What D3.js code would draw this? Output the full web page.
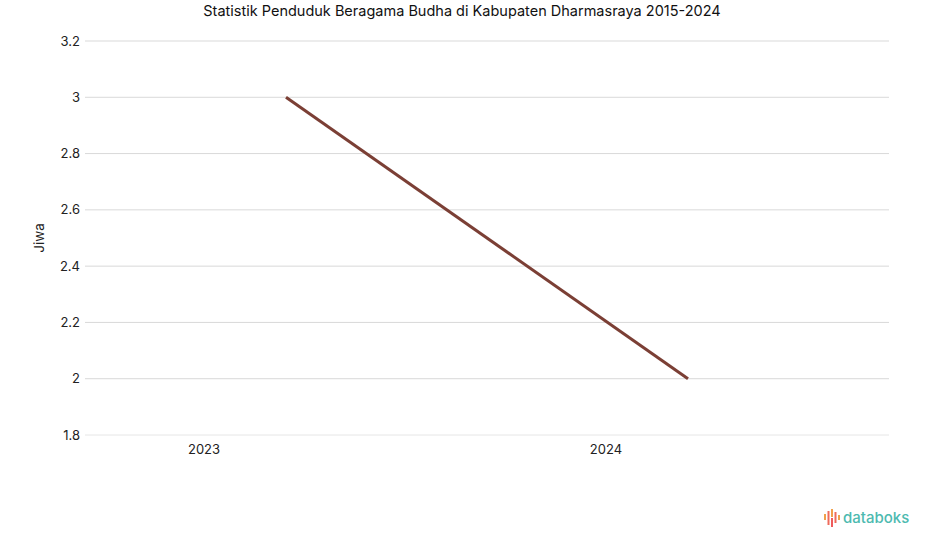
<!DOCTYPE html>
<html>
<head>
<meta charset="utf-8">
<script src="https://cdn.jsdelivr.net/npm/d3@7"></script>
<style>
  body { margin: 0; background: #fff; }
  svg { display: block; font-family: Inter, Roboto, "Noto Sans", sans-serif; }
</style>
</head>
<body>
<svg id="chart" width="925" height="547"></svg>
<script>
// data
var years = ["2023", "2024"];
var values = [3, 2];
var yTicks = [1.8, 2, 2.2, 2.4, 2.6, 2.8, 3, 3.2];

var svg = d3.select("#chart");
var plotLeft = 85, plotRight = 889, plotTop = 41, plotBottom = 435;

var x = d3.scaleBand().domain(years).range([plotLeft, plotRight]);
var y = d3.scaleLinear().domain([1.8, 3.2]).range([plotBottom, plotTop]);

// title
svg.append("text")
  .attr("x", 462).attr("y", 16)
  .attr("text-anchor", "middle")
  .attr("font-size", 14.5)
  .attr("fill", "#111")
  .text("Statistik Penduduk Beragama Budha di Kabupaten Dharmasraya 2015-2024");

// gridlines + y labels
var yAxis = svg.append("g").attr("class", "y-axis");
yAxis.selectAll("line")
  .data(yTicks)
  .join("line")
  .attr("x1", plotLeft).attr("x2", plotRight)
  .attr("y1", d => y(d)).attr("y2", d => y(d))
  .attr("stroke", d => d === 1.8 ? "#e6e6e6" : "#d9d9d9")
  .attr("stroke-width", 1);
yAxis.selectAll("text")
  .data(yTicks)
  .join("text")
  .attr("x", plotLeft - 5)
  .attr("y", d => y(d))
  .attr("dy", "0.35em")
  .attr("text-anchor", "end")
  .attr("font-size", 13)
  .attr("fill", "#222")
  .text(d => d);

// y title
svg.append("text")
  .attr("transform", "translate(44," + ((plotTop + plotBottom) / 2) + ") rotate(-90)")
  .attr("text-anchor", "middle")
  .attr("font-size", 13.5)
  .attr("fill", "#222")
  .text("Jiwa");

// x labels (sit left of band centre, as in the original)
svg.append("g").selectAll("text")
  .data(years)
  .join("text")
  .attr("x", d => x(d) + 119)
  .attr("y", plotBottom + 19)
  .attr("text-anchor", "middle")
  .attr("font-size", 13)
  .attr("fill", "#222")
  .text(d => d);

// line
var line = d3.line()
  .x((d, i) => x(years[i]) + x.bandwidth() / 2)
  .y(d => y(d));

svg.append("path")
  .datum(values)
  .attr("fill", "none")
  .attr("stroke", "#7b3f35")
  .attr("stroke-width", 3)
  .attr("d", line);

// databoks logo
var logo = svg.append("g").attr("transform", "translate(825,511)");
var bars = [
  { x: 0, y1: 3, y2: 9, c: "#f0a04b" },
  { x: 3.5, y1: 0, y2: 14, c: "#ef6b5b" },
  { x: 7, y1: -2, y2: 6, c: "#f0a04b" },
  { x: 7, y1: 7, y2: 16, c: "#ef5b5b" },
  { x: 10.5, y1: 1, y2: 12, c: "#ef6b5b" },
  { x: 14, y1: 4, y2: 9, c: "#f0a04b" }
];
logo.selectAll("line")
  .data(bars)
  .join("line")
  .attr("x1", d => d.x).attr("x2", d => d.x)
  .attr("y1", d => d.y1).attr("y2", d => d.y2)
  .attr("stroke", d => d.c)
  .attr("stroke-width", 2);
logo.append("text")
  .attr("x", 18).attr("y", 12)
  .attr("font-size", 15)
  .attr("font-weight", 500)
  .attr("fill", "#4dbab0")
  .text("databoks");
</script>
</body>
</html>
